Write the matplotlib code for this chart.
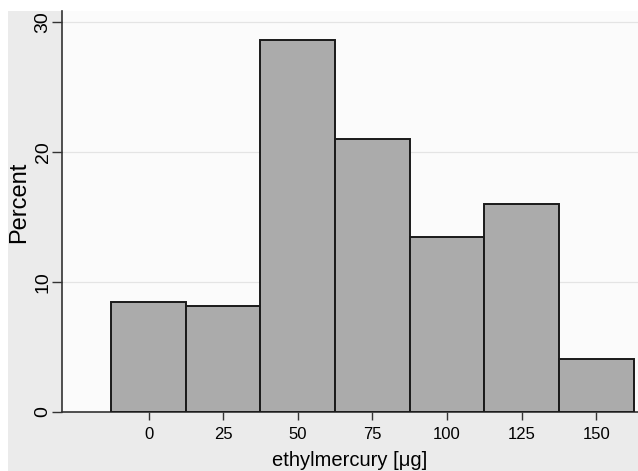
import matplotlib.pyplot as plt
from matplotlib.patches import Rectangle

# histogram bins (centres, width 25) and percentages
bin_centres = [0, 25, 50, 75, 100, 125, 150]
percent = [8.46, 8.15, 28.6, 21.0, 13.48, 16.0, 4.05]
bin_width = 25
x_ticks = [0, 25, 50, 75, 100, 125, 150]
y_ticks = [0, 10, 20, 30]

plt.rcParams['font.family'] = ['Liberation Sans', 'DejaVu Sans']

fig = plt.figure(figsize=(6.38, 4.71), dpi=100)
fig.patch.set_facecolor('white')
# stata-like grey outer region
fig.patches.append(Rectangle((8 / 638, 0), 1, 1 - 11 / 471, transform=fig.transFigure,
                             facecolor='#ebebeb', edgecolor='none', zorder=-10))

ax = fig.add_axes([62 / 638, 1 - 412 / 471, 1 - 62 / 638, (412 - 11) / 471])
ax.set_facecolor('#fbfbfb')

ax.bar(bin_centres, percent, width=bin_width, color='#ababab',
       edgecolor='#1a1a1a', linewidth=1.4, zorder=3)

ax.set_xlim(-29, 164)
ax.set_ylim(0, 30.85)
ax.set_xticks(x_ticks)
ax.set_yticks(y_ticks)
ax.set_yticklabels([str(v) for v in y_ticks], rotation=90, va='center', fontsize=14)
ax.set_xticklabels([str(v) for v in x_ticks], fontsize=12)
ax.tick_params(axis='y', direction='out', length=7, width=1, color='#333333', pad=0.5)
ax.tick_params(axis='x', direction='out', length=6, width=1, color='#333333', pad=5)

ax.grid(axis='y', color='#e4e4e4', linewidth=0.9, zorder=0)
ax.grid(axis='x', visible=False)

for side in ['top', 'right']:
    ax.spines[side].set_visible(False)
ax.spines['left'].set_color('#333333')
ax.spines['bottom'].set_color('#333333')
ax.spines['left'].set_linewidth(1.2)
ax.spines['bottom'].set_linewidth(1.2)

ax.set_ylabel('Percent', fontsize=17)
ax.yaxis.set_label_coords(-0.055, 0.524)
ax.set_xlabel('ethylmercury [μg]', fontsize=14.5)
ax.xaxis.set_label_coords(0.5, -0.098)

plt.savefig('out.png', dpi=100)
